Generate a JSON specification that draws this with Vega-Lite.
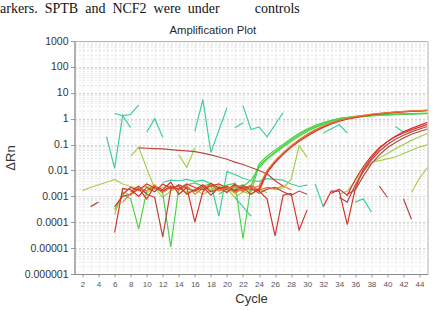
{
  "$schema": "https://vega.github.io/schema/vega-lite/v6.json",
  "width": 353,
  "height": 233,
  "autosize": "none",
  "padding": {"left": 74.5, "top": 41, "right": 7.5, "bottom": 36},
  "background": "white",
  "title": {
    "text": "arkers.\u00a0\u00a0SPTB\u00a0\u00a0and\u00a0\u00a0NCF2\u00a0\u00a0were\u00a0\u00a0under\u00a0\u00a0\u00a0\u00a0\u00a0\u00a0\u00a0\u00a0\u00a0\u00a0controls",
    "subtitle": "\u200b\u00a0\u00a0\u00a0\u00a0\u00a0\u00a0\u00a0\u00a0\u00a0\u00a0\u00a0\u00a0\u00a0\u00a0\u00a0\u00a0\u00a0\u00a0\u00a0\u00a0\u00a0\u00a0\u00a0\u00a0\u00a0\u00a0\u00a0\u00a0\u00a0\u00a0\u00a0\u00a0\u00a0\u00a0\u00a0\u00a0\u00a0\u00a0\u00a0\u00a0\u00a0\u00a0\u00a0\u00a0\u00a0\u00a0\u00a0\u00a0\u00a0\u00a0\u00a0\u00a0\u00a0\u00a0Amplification Plot",
    "anchor": "start",
    "frame": "group",
    "dx": -74.5,
    "offset": 0,
    "font": "Liberation Serif",
    "fontSize": 14,
    "fontWeight": "normal",
    "color": "#111111",
    "subtitleFont": "Liberation Sans",
    "subtitleFontSize": 11.3,
    "subtitleColor": "#2a2a2a",
    "subtitlePadding": 9
  },
  "config": {
    "font": "Liberation Sans",
    "view": {"stroke": "#b0b0b0", "strokeWidth": 1}
  },
  "data": {
    "values": [
      {"s":"T1","k":"t","c":5,"v":0.2},{"s":"T1","k":"t","c":6,"v":0.012},{"s":"T1","k":"t","c":7,"v":1.3},{"s":"T1","k":"t","c":8,"v":0.45},
      {"s":"T2","k":"t","c":6,"v":1.6},{"s":"T2","k":"t","c":7,"v":1.3},{"s":"T2","k":"t","c":8,"v":1.45},{"s":"T2","k":"t","c":9,"v":3.4},
      {"s":"T3","k":"t","c":10,"v":0.3},{"s":"T3","k":"t","c":11,"v":1.0},{"s":"T3","k":"t","c":12,"v":0.19},
      {"s":"T4","k":"t","c":16,"v":0.32},{"s":"T4","k":"t","c":17,"v":5.4},{"s":"T4","k":"t","c":18,"v":0.05},{"s":"T4","k":"t","c":20,"v":2.6},
      {"s":"T5","k":"t","c":21,"v":0.45},{"s":"T5","k":"t","c":22,"v":0.7},
      {"s":"T6","k":"t","c":22,"v":3.2},{"s":"T6","k":"t","c":23,"v":0.38},{"s":"T6","k":"t","c":24,"v":0.48},{"s":"T6","k":"t","c":25,"v":0.2},{"s":"T6","k":"t","c":27,"v":1.7},
      {"s":"T7","k":"t","c":32,"v":0.28},{"s":"T7","k":"t","c":34,"v":0.58},{"s":"T7","k":"t","c":35,"v":0.28},
      {"s":"T8","k":"t","c":41,"v":0.5},{"s":"T8","k":"t","c":42,"v":0.3},
      {"s":"T10","k":"t","c":12,"v":0.0035},{"s":"T10","k":"t","c":13,"v":0.0042},{"s":"T10","k":"t","c":14,"v":0.004},{"s":"T10","k":"t","c":15,"v":0.0045},{"s":"T10","k":"t","c":16,"v":0.0038},{"s":"T10","k":"t","c":17,"v":0.0042},{"s":"T10","k":"t","c":18,"v":0.003},{"s":"T10","k":"t","c":19,"v":0.00017},{"s":"T10","k":"t","c":20,"v":0.009},{"s":"T10","k":"t","c":21,"v":0.007},{"s":"T10","k":"t","c":22,"v":0.005},{"s":"T10","k":"t","c":23,"v":0.004},{"s":"T10","k":"t","c":24,"v":0.0038},{"s":"T10","k":"t","c":25,"v":0.0048},{"s":"T10","k":"t","c":26,"v":0.0045},{"s":"T10","k":"t","c":27,"v":0.0042},{"s":"T10","k":"t","c":28,"v":0.003},{"s":"T10","k":"t","c":29,"v":0.0024},{"s":"T10","k":"t","c":30,"v":0.0027},
      {"s":"T11","k":"t","c":31,"v":0.003},{"s":"T11","k":"t","c":32,"v":0.0004},
      {"s":"T12","k":"t","c":36,"v":0.0006},{"s":"T12","k":"t","c":37,"v":0.0008},{"s":"T12","k":"t","c":38,"v":0.00025},
      {"s":"T13","k":"t","c":21,"v":0.0009},{"s":"T13","k":"t","c":22,"v":0.0004},{"s":"T13","k":"t","c":23,"v":0.00017},

      {"s":"N5","k":"g2","c":2,"v":0.0017},{"s":"N5","k":"g2","c":3,"v":0.0022},{"s":"N5","k":"g2","c":4,"v":0.0028},{"s":"N5","k":"g2","c":5,"v":0.0035},{"s":"N5","k":"g2","c":6,"v":0.0045},{"s":"N5","k":"g2","c":7,"v":0.003},{"s":"N5","k":"g2","c":8,"v":0.0024},{"s":"N5","k":"g2","c":9,"v":0.0021},{"s":"N5","k":"g2","c":10,"v":0.0024},{"s":"N5","k":"g2","c":11,"v":0.0019},{"s":"N5","k":"g2","c":12,"v":0.0022},{"s":"N5","k":"g2","c":13,"v":0.0026},{"s":"N5","k":"g2","c":14,"v":0.0018},{"s":"N5","k":"g2","c":15,"v":0.0024},{"s":"N5","k":"g2","c":16,"v":0.0015},{"s":"N5","k":"g2","c":17,"v":0.0021},{"s":"N5","k":"g2","c":18,"v":0.0019},{"s":"N5","k":"g2","c":19,"v":0.0026},{"s":"N5","k":"g2","c":20,"v":0.0014},{"s":"N5","k":"g2","c":21,"v":0.0022},{"s":"N5","k":"g2","c":22,"v":0.0017},
      {"s":"N8","k":"g2","c":6,"v":0.0002},{"s":"N8","k":"g2","c":7,"v":0.0015},{"s":"N8","k":"g2","c":8,"v":0.0011},{"s":"N8","k":"g2","c":9,"v":0.0019},{"s":"N8","k":"g2","c":10,"v":0.0013},{"s":"N8","k":"g2","c":11,"v":0.0022},{"s":"N8","k":"g2","c":12,"v":0.0009},{"s":"N8","k":"g2","c":13,"v":0.0016},{"s":"N8","k":"g2","c":14,"v":0.0021},{"s":"N8","k":"g2","c":15,"v":0.0014},{"s":"N8","k":"g2","c":16,"v":0.0019},{"s":"N8","k":"g2","c":17,"v":0.0012},{"s":"N8","k":"g2","c":18,"v":0.0017},{"s":"N8","k":"g2","c":19,"v":0.0024},{"s":"N8","k":"g2","c":20,"v":0.002},{"s":"N8","k":"g2","c":21,"v":0.0009},{"s":"N8","k":"g2","c":22,"v":0.0015},{"s":"N8","k":"g2","c":23,"v":0.0012},{"s":"N8","k":"g2","c":24,"v":0.0018},{"s":"N8","k":"g2","c":25,"v":0.0014},
      {"s":"Y1","k":"g2","c":8,"v":0.035},{"s":"Y1","k":"g2","c":9,"v":0.08},{"s":"Y1","k":"g2","c":10,"v":0.012},{"s":"Y1","k":"g2","c":11,"v":0.002},
      {"s":"Y2","k":"g2","c":14,"v":0.04},{"s":"Y2","k":"g2","c":15,"v":0.013},{"s":"Y2","k":"g2","c":16,"v":0.075},
      {"s":"GN","k":"g2","c":25,"v":0.0022},{"s":"GN","k":"g2","c":26,"v":0.0018},{"s":"GN","k":"g2","c":27,"v":0.0021},{"s":"GN","k":"g2","c":28,"v":0.0045},{"s":"GN","k":"g2","c":29,"v":0.09},{"s":"GN","k":"g2","c":30,"v":0.032},
      {"s":"LG1","k":"g2","c":34,"v":0.0012},{"s":"LG1","k":"g2","c":35,"v":0.0016},{"s":"LG1","k":"g2","c":36,"v":0.004},{"s":"LG1","k":"g2","c":37,"v":0.01},{"s":"LG1","k":"g2","c":38,"v":0.019},{"s":"LG1","k":"g2","c":39,"v":0.03},{"s":"LG1","k":"g2","c":40,"v":0.045},{"s":"LG1","k":"g2","c":41,"v":0.068},{"s":"LG1","k":"g2","c":42,"v":0.1},{"s":"LG1","k":"g2","c":43,"v":0.145},{"s":"LG1","k":"g2","c":44,"v":0.2},{"s":"LG1","k":"g2","c":45,"v":0.27},
      {"s":"LG2","k":"g2","c":38,"v":0.021},{"s":"LG2","k":"g2","c":39,"v":0.024},{"s":"LG2","k":"g2","c":40,"v":0.028},{"s":"LG2","k":"g2","c":41,"v":0.033},{"s":"LG2","k":"g2","c":42,"v":0.045},{"s":"LG2","k":"g2","c":43,"v":0.06},{"s":"LG2","k":"g2","c":44,"v":0.08},{"s":"LG2","k":"g2","c":45,"v":0.1},
      {"s":"LG3","k":"g2","c":43,"v":0.0014},{"s":"LG3","k":"g2","c":44,"v":0.005},{"s":"LG3","k":"g2","c":45,"v":0.013},

      {"s":"G1","k":"g1","c":20,"v":0.0018},{"s":"G1","k":"g1","c":21,"v":0.0022},{"s":"G1","k":"g1","c":22,"v":0.0028},{"s":"G1","k":"g1","c":23,"v":0.0015},{"s":"G1","k":"g1","c":24,"v":0.015},{"s":"G1","k":"g1","c":25,"v":0.03},{"s":"G1","k":"g1","c":26,"v":0.052},{"s":"G1","k":"g1","c":27,"v":0.09},{"s":"G1","k":"g1","c":28,"v":0.15},{"s":"G1","k":"g1","c":29,"v":0.24},{"s":"G1","k":"g1","c":30,"v":0.36},{"s":"G1","k":"g1","c":31,"v":0.5},{"s":"G1","k":"g1","c":32,"v":0.65},{"s":"G1","k":"g1","c":33,"v":0.82},{"s":"G1","k":"g1","c":34,"v":1.0},{"s":"G1","k":"g1","c":35,"v":1.1},{"s":"G1","k":"g1","c":36,"v":1.2},{"s":"G1","k":"g1","c":37,"v":1.28},{"s":"G1","k":"g1","c":38,"v":1.35},{"s":"G1","k":"g1","c":39,"v":1.4},{"s":"G1","k":"g1","c":40,"v":1.45},{"s":"G1","k":"g1","c":41,"v":1.49},{"s":"G1","k":"g1","c":42,"v":1.52},{"s":"G1","k":"g1","c":43,"v":1.55},{"s":"G1","k":"g1","c":44,"v":1.58},{"s":"G1","k":"g1","c":45,"v":1.6},
      {"s":"G2","k":"g1","c":6,"v":0.0003},{"s":"G2","k":"g1","c":7,"v":0.0012},{"s":"G2","k":"g1","c":8,"v":0.0008},{"s":"G2","k":"g1","c":9,"v":0.000055},{"s":"G2","k":"g1","c":10,"v":0.0016},{"s":"G2","k":"g1","c":11,"v":0.0024},{"s":"G2","k":"g1","c":12,"v":0.0013},{"s":"G2","k":"g1","c":13,"v":0.000011},{"s":"G2","k":"g1","c":14,"v":0.002},{"s":"G2","k":"g1","c":15,"v":0.0028},{"s":"G2","k":"g1","c":16,"v":0.0033},{"s":"G2","k":"g1","c":17,"v":0.0025},{"s":"G2","k":"g1","c":18,"v":0.003},{"s":"G2","k":"g1","c":19,"v":0.0018},{"s":"G2","k":"g1","c":20,"v":0.0027},{"s":"G2","k":"g1","c":21,"v":0.0032},{"s":"G2","k":"g1","c":22,"v":0.000023},{"s":"G2","k":"g1","c":23,"v":0.0025},{"s":"G2","k":"g1","c":24,"v":0.018},{"s":"G2","k":"g1","c":25,"v":0.036},{"s":"G2","k":"g1","c":26,"v":0.062},{"s":"G2","k":"g1","c":27,"v":0.1},{"s":"G2","k":"g1","c":28,"v":0.17},{"s":"G2","k":"g1","c":29,"v":0.27},{"s":"G2","k":"g1","c":30,"v":0.4},{"s":"G2","k":"g1","c":31,"v":0.55},{"s":"G2","k":"g1","c":32,"v":0.7},{"s":"G2","k":"g1","c":33,"v":0.86},{"s":"G2","k":"g1","c":34,"v":1.02},{"s":"G2","k":"g1","c":35,"v":1.13},{"s":"G2","k":"g1","c":36,"v":1.22},{"s":"G2","k":"g1","c":37,"v":1.3},{"s":"G2","k":"g1","c":38,"v":1.37},{"s":"G2","k":"g1","c":39,"v":1.42},{"s":"G2","k":"g1","c":40,"v":1.47},{"s":"G2","k":"g1","c":41,"v":1.51},{"s":"G2","k":"g1","c":42,"v":1.54},{"s":"G2","k":"g1","c":43,"v":1.57},{"s":"G2","k":"g1","c":44,"v":1.6},{"s":"G2","k":"g1","c":45,"v":1.62},
      {"s":"G3","k":"g1","c":19,"v":0.0012},{"s":"G3","k":"g1","c":20,"v":0.002},{"s":"G3","k":"g1","c":21,"v":0.0015},{"s":"G3","k":"g1","c":22,"v":0.0024},{"s":"G3","k":"g1","c":23,"v":0.0042},{"s":"G3","k":"g1","c":24,"v":0.013},{"s":"G3","k":"g1","c":25,"v":0.027},{"s":"G3","k":"g1","c":26,"v":0.047},{"s":"G3","k":"g1","c":27,"v":0.08},{"s":"G3","k":"g1","c":28,"v":0.13},{"s":"G3","k":"g1","c":29,"v":0.21},{"s":"G3","k":"g1","c":30,"v":0.32},{"s":"G3","k":"g1","c":31,"v":0.45},{"s":"G3","k":"g1","c":32,"v":0.6},{"s":"G3","k":"g1","c":33,"v":0.76},{"s":"G3","k":"g1","c":34,"v":0.92},{"s":"G3","k":"g1","c":35,"v":1.03},{"s":"G3","k":"g1","c":36,"v":1.12},{"s":"G3","k":"g1","c":37,"v":1.2},{"s":"G3","k":"g1","c":38,"v":1.27},{"s":"G3","k":"g1","c":39,"v":1.33},{"s":"G3","k":"g1","c":40,"v":1.38},{"s":"G3","k":"g1","c":41,"v":1.42},{"s":"G3","k":"g1","c":42,"v":1.46},{"s":"G3","k":"g1","c":43,"v":1.49},{"s":"G3","k":"g1","c":44,"v":1.52},{"s":"G3","k":"g1","c":45,"v":1.55},

      {"s":"F1","k":"r2","c":9,"v":0.074},{"s":"F1","k":"r2","c":10,"v":0.072},{"s":"F1","k":"r2","c":11,"v":0.07},{"s":"F1","k":"r2","c":12,"v":0.068},{"s":"F1","k":"r2","c":13,"v":0.064},{"s":"F1","k":"r2","c":14,"v":0.06},{"s":"F1","k":"r2","c":15,"v":0.057},{"s":"F1","k":"r2","c":16,"v":0.053},{"s":"F1","k":"r2","c":17,"v":0.047},{"s":"F1","k":"r2","c":18,"v":0.04},{"s":"F1","k":"r2","c":19,"v":0.033},{"s":"F1","k":"r2","c":20,"v":0.027},{"s":"F1","k":"r2","c":21,"v":0.021},{"s":"F1","k":"r2","c":22,"v":0.017},{"s":"F1","k":"r2","c":23,"v":0.013},{"s":"F1","k":"r2","c":24,"v":0.01},{"s":"F1","k":"r2","c":25,"v":0.0075},{"s":"F1","k":"r2","c":26,"v":0.004},{"s":"F1","k":"r2","c":27,"v":0.0025},
      {"s":"S1","k":"r2","c":3,"v":0.0004},{"s":"S1","k":"r2","c":4,"v":0.0006},
      {"s":"N2","k":"r1","c":6,"v":0.0004},{"s":"N2","k":"r1","c":7,"v":0.001},{"s":"N2","k":"r1","c":8,"v":0.0012},{"s":"N2","k":"r1","c":9,"v":0.002},{"s":"N2","k":"r1","c":10,"v":0.0008},{"s":"N2","k":"r1","c":11,"v":0.0025},{"s":"N2","k":"r1","c":12,"v":0.0018},{"s":"N2","k":"r1","c":13,"v":0.0035},{"s":"N2","k":"r1","c":14,"v":0.0012},{"s":"N2","k":"r1","c":15,"v":0.0022},{"s":"N2","k":"r1","c":16,"v":0.0001},{"s":"N2","k":"r1","c":17,"v":0.0015},{"s":"N2","k":"r1","c":18,"v":0.0032},{"s":"N2","k":"r1","c":19,"v":0.0021},{"s":"N2","k":"r1","c":20,"v":0.0014},{"s":"N2","k":"r1","c":21,"v":0.0028},{"s":"N2","k":"r1","c":22,"v":0.0019},{"s":"N2","k":"r1","c":23,"v":0.0025},{"s":"N2","k":"r1","c":24,"v":0.0016},{"s":"N2","k":"r1","c":25,"v":0.0008},{"s":"N2","k":"r1","c":26,"v":0.00003},{"s":"N2","k":"r1","c":27,"v":0.0011},{"s":"N2","k":"r1","c":28,"v":0.0013},{"s":"N2","k":"r1","c":29,"v":0.00005},{"s":"N2","k":"r1","c":30,"v":0.0003},
      {"s":"N3","k":"r2","c":8,"v":0.0015},{"s":"N3","k":"r2","c":9,"v":0.0025},{"s":"N3","k":"r2","c":10,"v":0.0012},{"s":"N3","k":"r2","c":11,"v":0.0009},{"s":"N3","k":"r2","c":12,"v":0.000027},{"s":"N3","k":"r2","c":13,"v":0.0018},{"s":"N3","k":"r2","c":14,"v":0.0028},{"s":"N3","k":"r2","c":15,"v":0.002},{"s":"N3","k":"r2","c":16,"v":0.0016},{"s":"N3","k":"r2","c":17,"v":0.0024},{"s":"N3","k":"r2","c":18,"v":0.0011},{"s":"N3","k":"r2","c":19,"v":0.0022},{"s":"N3","k":"r2","c":20,"v":0.0018},{"s":"N3","k":"r2","c":21,"v":0.003},{"s":"N3","k":"r2","c":22,"v":0.0017},{"s":"N3","k":"r2","c":23,"v":0.0021},{"s":"N3","k":"r2","c":24,"v":0.0013},{"s":"N3","k":"r2","c":25,"v":0.0019},{"s":"N3","k":"r2","c":26,"v":0.0022},{"s":"N3","k":"r2","c":27,"v":0.0015},{"s":"N3","k":"r2","c":28,"v":0.0011},{"s":"N3","k":"r2","c":29,"v":0.0016},{"s":"N3","k":"r2","c":30,"v":0.0012},
      {"s":"N4","k":"o","c":7,"v":0.0006},{"s":"N4","k":"o","c":8,"v":0.0013},{"s":"N4","k":"o","c":9,"v":0.0022},{"s":"N4","k":"o","c":10,"v":0.0016},{"s":"N4","k":"o","c":11,"v":0.0028},{"s":"N4","k":"o","c":12,"v":0.0014},{"s":"N4","k":"o","c":13,"v":0.0022},{"s":"N4","k":"o","c":14,"v":0.0017},{"s":"N4","k":"o","c":15,"v":0.0026},{"s":"N4","k":"o","c":16,"v":0.0012},{"s":"N4","k":"o","c":17,"v":0.002},{"s":"N4","k":"o","c":18,"v":0.0028},{"s":"N4","k":"o","c":19,"v":0.0016},{"s":"N4","k":"o","c":20,"v":0.0022},{"s":"N4","k":"o","c":21,"v":0.0013},{"s":"N4","k":"o","c":22,"v":0.002},{"s":"N4","k":"o","c":23,"v":0.0027},{"s":"N4","k":"o","c":24,"v":0.0017},{"s":"N4","k":"o","c":25,"v":0.0022},{"s":"N4","k":"o","c":26,"v":0.002},{"s":"N4","k":"o","c":27,"v":0.0025},{"s":"N4","k":"o","c":28,"v":0.0018},
      {"s":"R1","k":"r1","c":6,"v":0.00004},{"s":"R1","k":"r1","c":7,"v":0.002},{"s":"R1","k":"r1","c":8,"v":0.0018},{"s":"R1","k":"r1","c":9,"v":0.001},{"s":"R1","k":"r1","c":10,"v":0.0022},{"s":"R1","k":"r1","c":11,"v":0.0015},{"s":"R1","k":"r1","c":12,"v":0.003},{"s":"R1","k":"r1","c":13,"v":0.002},{"s":"R1","k":"r1","c":14,"v":0.0025},{"s":"R1","k":"r1","c":15,"v":0.0012},{"s":"R1","k":"r1","c":16,"v":0.0018},{"s":"R1","k":"r1","c":17,"v":0.0028},{"s":"R1","k":"r1","c":18,"v":0.0015},{"s":"R1","k":"r1","c":19,"v":0.002},{"s":"R1","k":"r1","c":20,"v":0.0025},{"s":"R1","k":"r1","c":21,"v":0.0016},{"s":"R1","k":"r1","c":22,"v":0.0022},{"s":"R1","k":"r1","c":23,"v":0.0012},{"s":"R1","k":"r1","c":24,"v":0.002},{"s":"R1","k":"r1","c":25,"v":0.009},{"s":"R1","k":"r1","c":26,"v":0.022},{"s":"R1","k":"r1","c":27,"v":0.045},{"s":"R1","k":"r1","c":28,"v":0.085},{"s":"R1","k":"r1","c":29,"v":0.15},{"s":"R1","k":"r1","c":30,"v":0.24},{"s":"R1","k":"r1","c":31,"v":0.36},{"s":"R1","k":"r1","c":32,"v":0.5},{"s":"R1","k":"r1","c":33,"v":0.66},{"s":"R1","k":"r1","c":34,"v":0.85},{"s":"R1","k":"r1","c":35,"v":1.0},{"s":"R1","k":"r1","c":36,"v":1.15},{"s":"R1","k":"r1","c":37,"v":1.3},{"s":"R1","k":"r1","c":38,"v":1.45},{"s":"R1","k":"r1","c":39,"v":1.57},{"s":"R1","k":"r1","c":40,"v":1.68},{"s":"R1","k":"r1","c":41,"v":1.78},{"s":"R1","k":"r1","c":42,"v":1.87},{"s":"R1","k":"r1","c":43,"v":1.95},{"s":"R1","k":"r1","c":44,"v":2.02},{"s":"R1","k":"r1","c":45,"v":2.08},
      {"s":"R2","k":"r1","c":7,"v":0.0012},{"s":"R2","k":"r1","c":8,"v":0.0022},{"s":"R2","k":"r1","c":9,"v":0.0017},{"s":"R2","k":"r1","c":10,"v":0.003},{"s":"R2","k":"r1","c":11,"v":0.0021},{"s":"R2","k":"r1","c":12,"v":0.0016},{"s":"R2","k":"r1","c":13,"v":0.0024},{"s":"R2","k":"r1","c":14,"v":0.0019},{"s":"R2","k":"r1","c":15,"v":0.003},{"s":"R2","k":"r1","c":16,"v":0.0022},{"s":"R2","k":"r1","c":17,"v":0.0018},{"s":"R2","k":"r1","c":18,"v":0.0025},{"s":"R2","k":"r1","c":19,"v":0.003},{"s":"R2","k":"r1","c":20,"v":0.0021},{"s":"R2","k":"r1","c":21,"v":0.0017},{"s":"R2","k":"r1","c":22,"v":0.0026},{"s":"R2","k":"r1","c":23,"v":0.0019},{"s":"R2","k":"r1","c":24,"v":0.0016},{"s":"R2","k":"r1","c":25,"v":0.008},{"s":"R2","k":"r1","c":26,"v":0.02},{"s":"R2","k":"r1","c":27,"v":0.042},{"s":"R2","k":"r1","c":28,"v":0.078},{"s":"R2","k":"r1","c":29,"v":0.135},{"s":"R2","k":"r1","c":30,"v":0.21},{"s":"R2","k":"r1","c":31,"v":0.32},{"s":"R2","k":"r1","c":32,"v":0.46},{"s":"R2","k":"r1","c":33,"v":0.62},{"s":"R2","k":"r1","c":34,"v":0.8},{"s":"R2","k":"r1","c":35,"v":0.96},{"s":"R2","k":"r1","c":36,"v":1.1},{"s":"R2","k":"r1","c":37,"v":1.25},{"s":"R2","k":"r1","c":38,"v":1.4},{"s":"R2","k":"r1","c":39,"v":1.52},{"s":"R2","k":"r1","c":40,"v":1.63},{"s":"R2","k":"r1","c":41,"v":1.73},{"s":"R2","k":"r1","c":42,"v":1.82},{"s":"R2","k":"r1","c":43,"v":1.9},{"s":"R2","k":"r1","c":44,"v":1.97},{"s":"R2","k":"r1","c":45,"v":2.03},
      {"s":"R3","k":"o","c":20,"v":0.0019},{"s":"R3","k":"o","c":21,"v":0.0024},{"s":"R3","k":"o","c":22,"v":0.0015},{"s":"R3","k":"o","c":23,"v":0.0021},{"s":"R3","k":"o","c":24,"v":0.0025},{"s":"R3","k":"o","c":25,"v":0.01},{"s":"R3","k":"o","c":26,"v":0.024},{"s":"R3","k":"o","c":27,"v":0.048},{"s":"R3","k":"o","c":28,"v":0.09},{"s":"R3","k":"o","c":29,"v":0.155},{"s":"R3","k":"o","c":30,"v":0.25},{"s":"R3","k":"o","c":31,"v":0.37},{"s":"R3","k":"o","c":32,"v":0.52},{"s":"R3","k":"o","c":33,"v":0.69},{"s":"R3","k":"o","c":34,"v":0.87},{"s":"R3","k":"o","c":35,"v":1.03},{"s":"R3","k":"o","c":36,"v":1.19},{"s":"R3","k":"o","c":37,"v":1.34},{"s":"R3","k":"o","c":38,"v":1.49},{"s":"R3","k":"o","c":39,"v":1.61},{"s":"R3","k":"o","c":40,"v":1.72},{"s":"R3","k":"o","c":41,"v":1.82},{"s":"R3","k":"o","c":42,"v":1.91},{"s":"R3","k":"o","c":43,"v":1.99},{"s":"R3","k":"o","c":44,"v":2.06},{"s":"R3","k":"o","c":45,"v":2.12},
      {"s":"L1","k":"r1","c":32,"v":0.0004},{"s":"L1","k":"r1","c":33,"v":0.0016},{"s":"L1","k":"r1","c":34,"v":0.0016},{"s":"L1","k":"r1","c":35,"v":0.00008},{"s":"L1","k":"r1","c":36,"v":0.002},{"s":"L1","k":"r1","c":37,"v":0.011},{"s":"L1","k":"r1","c":38,"v":0.03},{"s":"L1","k":"r1","c":39,"v":0.07},{"s":"L1","k":"r1","c":40,"v":0.13},{"s":"L1","k":"r1","c":41,"v":0.21},{"s":"L1","k":"r1","c":42,"v":0.31},{"s":"L1","k":"r1","c":43,"v":0.42},{"s":"L1","k":"r1","c":44,"v":0.55},{"s":"L1","k":"r1","c":45,"v":0.72},
      {"s":"L2","k":"r1","c":33,"v":0.0013},{"s":"L2","k":"r1","c":34,"v":0.0019},{"s":"L2","k":"r1","c":35,"v":0.0011},{"s":"L2","k":"r1","c":36,"v":0.0045},{"s":"L2","k":"r1","c":37,"v":0.014},{"s":"L2","k":"r1","c":38,"v":0.036},{"s":"L2","k":"r1","c":39,"v":0.075},{"s":"L2","k":"r1","c":40,"v":0.13},{"s":"L2","k":"r1","c":41,"v":0.2},{"s":"L2","k":"r1","c":42,"v":0.28},{"s":"L2","k":"r1","c":43,"v":0.37},{"s":"L2","k":"r1","c":44,"v":0.47},{"s":"L2","k":"r1","c":45,"v":0.6},
      {"s":"L3","k":"r2","c":34,"v":0.0009},{"s":"L3","k":"r2","c":35,"v":0.0006},{"s":"L3","k":"r2","c":36,"v":0.0028},{"s":"L3","k":"r2","c":37,"v":0.009},{"s":"L3","k":"r2","c":38,"v":0.025},{"s":"L3","k":"r2","c":39,"v":0.055},{"s":"L3","k":"r2","c":40,"v":0.1},{"s":"L3","k":"r2","c":41,"v":0.16},{"s":"L3","k":"r2","c":42,"v":0.23},{"s":"L3","k":"r2","c":43,"v":0.31},{"s":"L3","k":"r2","c":44,"v":0.4},{"s":"L3","k":"r2","c":45,"v":0.5},
      {"s":"L4","k":"r2","c":35,"v":0.0012},{"s":"L4","k":"r2","c":36,"v":0.0018},{"s":"L4","k":"r2","c":37,"v":0.006},{"s":"L4","k":"r2","c":38,"v":0.018},{"s":"L4","k":"r2","c":39,"v":0.04},{"s":"L4","k":"r2","c":40,"v":0.075},{"s":"L4","k":"r2","c":41,"v":0.12},{"s":"L4","k":"r2","c":42,"v":0.18},{"s":"L4","k":"r2","c":43,"v":0.25},{"s":"L4","k":"r2","c":44,"v":0.32},{"s":"L4","k":"r2","c":45,"v":0.4},
      {"s":"D1","k":"r2","c":39,"v":0.0025},{"s":"D1","k":"r2","c":40,"v":0.0009},
      {"s":"D2","k":"r2","c":42,"v":0.0008},{"s":"D2","k":"r2","c":43,"v":0.00013}
    ]
  },
  "mark": {"type": "line", "strokeWidth": 1.2, "clip": true},
  "encoding": {
    "x": {
      "field": "c",
      "type": "quantitative",
      "scale": {"domain": [1, 45], "nice": false, "zero": false},
      "axis": {
        "title": "Cycle",
        "values": [1,2,3,4,5,6,7,8,9,10,11,12,13,14,15,16,17,18,19,20,21,22,23,24,25,26,27,28,29,30,31,32,33,34,35,36,37,38,39,40,41,42,43,44,45],
        "labelExpr": "datum.value % 2 === 0 ? datum.label : ''",
        "labelOverlap": false,
        "labelFlush": false,
        "labelFontSize": 8,
        "labelColor": "#555555",
        "labelPadding": 3,
        "tickSize": 3,
        "tickColor": "#999999",
        "tickOpacity": {"condition": {"test": "datum.value % 2 === 0", "value": 1}, "value": 0},
        "domainColor": "#8a8a8a",
        "grid": true,
        "gridColor": "#d6d6d6",
        "gridDash": [2, 2],
        "gridWidth": 0.8,
        "titleFontSize": 13,
        "titleFontWeight": "normal",
        "titleColor": "#333333",
        "titlePadding": 4
      }
    },
    "y": {
      "field": "v",
      "type": "quantitative",
      "scale": {"type": "log", "domain": [0.000001, 1000], "nice": false},
      "axis": {
        "title": "ΔRn",
        "values": [1e-6,2e-6,3e-6,4e-6,5e-6,6e-6,7e-6,8e-6,9e-6,1e-5,2e-5,3e-5,4e-5,5e-5,6e-5,7e-5,8e-5,9e-5,1e-4,2e-4,3e-4,4e-4,5e-4,6e-4,7e-4,8e-4,9e-4,0.001,0.002,0.003,0.004,0.005,0.006,0.007,0.008,0.009,0.01,0.02,0.03,0.04,0.05,0.06,0.07,0.08,0.09,0.1,0.2,0.3,0.4,0.5,0.6,0.7,0.8,0.9,1,2,3,4,5,6,7,8,9,10,20,30,40,50,60,70,80,90,100,200,300,400,500,600,700,800,900,1000],
        "labelExpr": "abs(log(datum.value)/LN10 - round(log(datum.value)/LN10)) < 0.01 ? format(datum.value, '.6~f') : ''",
        "labelOverlap": false,
        "labelFontSize": 10.5,
        "labelColor": "#333333",
        "labelPadding": 2.5,
        "tickSize": 4,
        "tickColor": "#999999",
        "tickOpacity": {"condition": {"test": "abs(log(datum.value)/LN10 - round(log(datum.value)/LN10)) < 0.01", "value": 1}, "value": 0},
        "domainColor": "#8a8a8a",
        "grid": true,
        "gridColor": {"condition": {"test": "abs(log(datum.value)/LN10 - round(log(datum.value)/LN10)) < 0.01", "value": "#c4c4c4"}, "value": "#e3e3e3"},
        "gridDash": [2, 2],
        "gridWidth": 0.8,
        "titleFontSize": 13,
        "titleFontWeight": "normal",
        "titleColor": "#333333",
        "titlePadding": 7
      }
    },
    "color": {
      "field": "k",
      "type": "nominal",
      "scale": {
        "domain": ["t", "g1", "g2", "r1", "r2", "o"],
        "range": ["#3fcf97", "#4fd24a", "#a5cf4a", "#d8342c", "#b9473f", "#e97b2f"]
      },
      "legend": null
    },
    "detail": {"field": "s", "type": "nominal"}
  }
}
